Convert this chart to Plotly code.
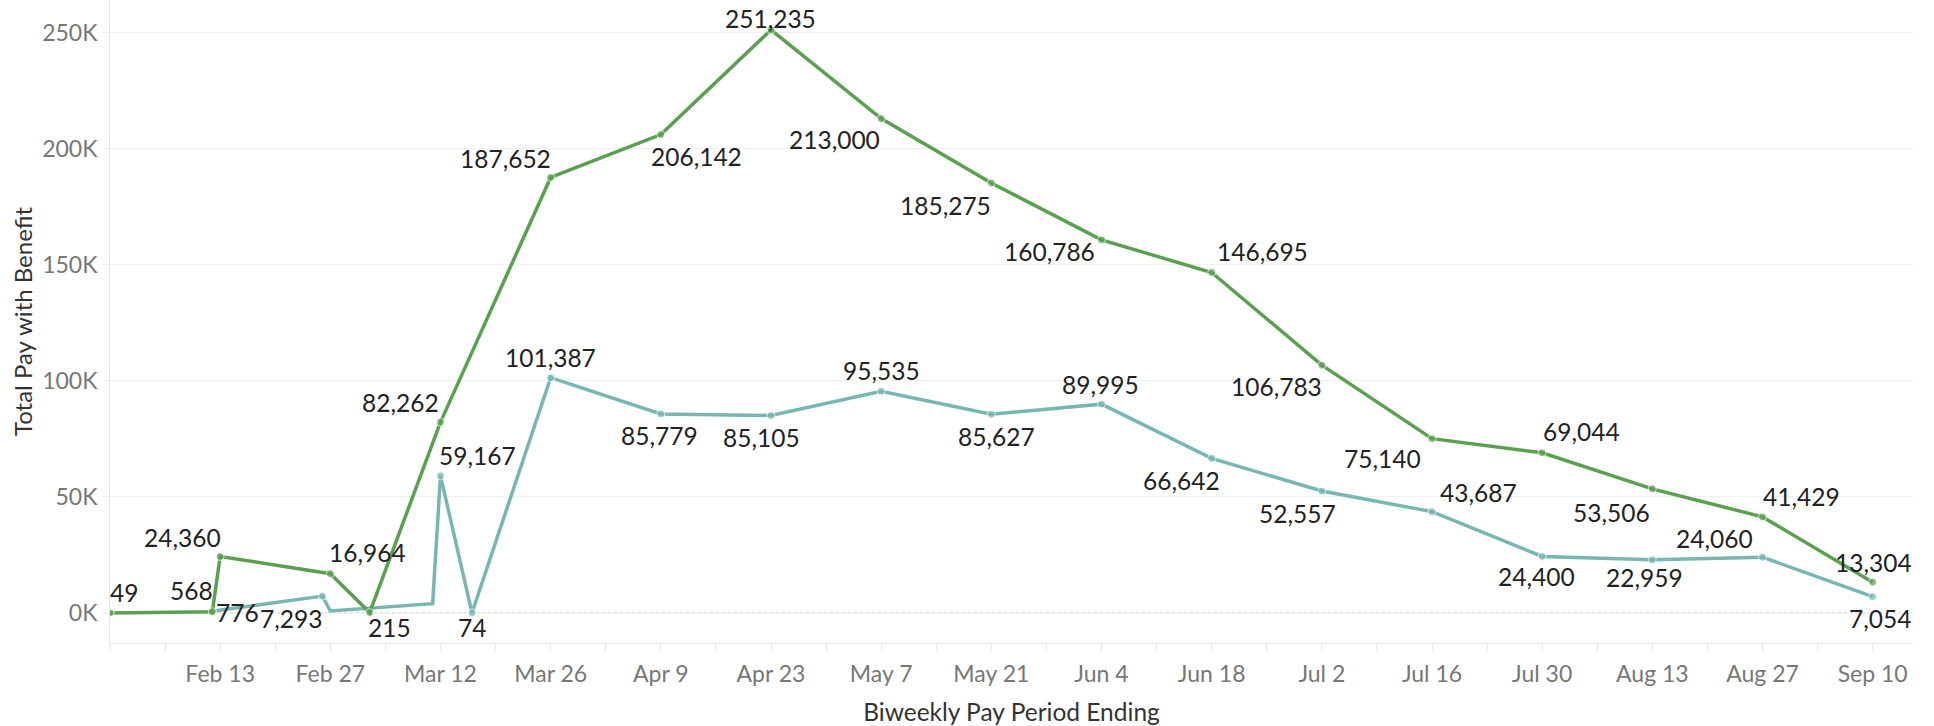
import plotly.graph_objects as go

# ---- data ----
green_dates = ["2020-01-30", "2020-02-12", "2020-02-13", "2020-02-27", "2020-03-03",
               "2020-03-12", "2020-03-26", "2020-04-09", "2020-04-23", "2020-05-07",
               "2020-05-21", "2020-06-04", "2020-06-18", "2020-07-02", "2020-07-16",
               "2020-07-30", "2020-08-13", "2020-08-27", "2020-09-10"]
green_values = [49, 568, 24360, 16964, 215, 82262, 187652, 206142, 251235, 213000,
                185275, 160786, 146695, 106783, 75140, 69044, 53506, 41429, 13304]

teal_dates = ["2020-02-12", "2020-02-26", "2020-02-27", "2020-03-11", "2020-03-12",
              "2020-03-16", "2020-03-26", "2020-04-09", "2020-04-23", "2020-05-07",
              "2020-05-21", "2020-06-04", "2020-06-18", "2020-07-02", "2020-07-16",
              "2020-07-30", "2020-08-13", "2020-08-27", "2020-09-10"]
teal_values = [776, 7293, 900, 4050, 59167, 74, 101387, 85779, 85105, 95535,
               85627, 89995, 66642, 52557, 43687, 24400, 22959, 24060, 7054]

x_tick_dates = ["2020-02-13", "2020-02-27", "2020-03-12", "2020-03-26", "2020-04-09",
                "2020-04-23", "2020-05-07", "2020-05-21", "2020-06-04", "2020-06-18",
                "2020-07-02", "2020-07-16", "2020-07-30", "2020-08-13", "2020-08-27",
                "2020-09-10"]
x_tick_labels = ["Feb 13", "Feb 27", "Mar 12", "Mar 26", "Apr 9", "Apr 23", "May 7",
                 "May 21", "Jun 4", "Jun 18", "Jul 2", "Jul 16", "Jul 30", "Aug 13",
                 "Aug 27", "Sep 10"]

y_tick_values = [0, 50000, 100000, 150000, 200000, 250000]
y_tick_labels = ["0K", "50K", "100K", "150K", "200K", "250K"]

# label placement: pixel offset of label centre from its point (None = no label)
green_label_offsets = [(14, -20), (-21, -21), (-38, -19), (37, -21), (20, 15),
                       (-40, -20), (-45, -19), (36, 22), (-1, -11), (-47, 21),
                       (-46, 23), (-52, 12), (51, -21), (-45, 21), (-50, 20),
                       (39, -21), (-41, 24), (39, -20), (1, -20)]
teal_label_offsets = [(25, 1), (-31, 22), None, None, (37, -20),
                      (0, 15), (0, -20), (-1, 22), (-10, 22), (0, -21),
                      (5, 22), (-1, -20), (-30, 22), (-24, 22), (46, -19),
                      (-6, 20), (-8, 18), (-48, -19), (7, 22)]

GREEN = "#59a14f"
TEAL = "#76b7b2"
FONT = "Lato"
LABEL_FONT = dict(family=FONT, size=24.5, color="#222222")


def series(dates, values, offsets, color):
    sizes = [8 if o else 0 for o in offsets]
    return go.Scatter(
        x=dates, y=values, mode="lines+markers",
        line=dict(color=color, width=3.5),
        marker=dict(color=color, size=sizes),
        showlegend=False, hoverinfo="x+y",
    )


def labels(dates, values, offsets):
    out = []
    for d, v, o in zip(dates, values, offsets):
        if not o:
            continue
        out.append(dict(x=d, y=v, xref="x", yref="y", text=f"{v:,}",
                        showarrow=False, xanchor="center", yanchor="middle",
                        xshift=o[0], yshift=-o[1], font=LABEL_FONT))
    return out


fig = go.Figure()
fig.add_trace(series(teal_dates, teal_values, teal_label_offsets, TEAL))
fig.add_trace(series(green_dates, green_values, green_label_offsets, GREEN))

fig.add_shape(type="line", xref="paper", yref="y", x0=0, x1=1, y0=0, y1=0,
              line=dict(color="#bdbdbd", width=1, dash="dot"), layer="below")

annotations = labels(teal_dates, teal_values, teal_label_offsets) + \
    labels(green_dates, green_values, green_label_offsets)

fig.update_layout(
    width=1934, height=726,
    margin=dict(l=110, r=21, t=0, b=83),
    paper_bgcolor="white", plot_bgcolor="white",
    font=dict(family=FONT),
    annotations=annotations,
    xaxis=dict(
        type="date", automargin=False,
        range=["2020-01-30 00:00", "2020-09-15 03:00"],
        tickvals=x_tick_dates, ticktext=x_tick_labels,
        ticks="outside", ticklen=7, tickcolor="#e6e6e6", tickwidth=1,
        ticklabelstandoff=3,
        minor=dict(dtick=7 * 86400000, tick0="2020-01-30", ticks="outside",
                   ticklen=7, tickcolor="#e6e6e6", showgrid=False),
        showline=True, linecolor="#e6e6e6", linewidth=1,
        showgrid=False, zeroline=False,
        tickfont=dict(family=FONT, size=23, color="#777777"),
        title=dict(text="Biweekly Pay Period Ending",
                   font=dict(family=FONT, size=24.5, color="#333333"), standoff=18),
    ),
    yaxis=dict(
        range=[-12900, 264100], automargin=False,
        tickvals=y_tick_values, ticktext=y_tick_labels,
        ticks="outside", ticklen=7, tickcolor="#eeeeee",
        showline=True, linecolor="#e6e6e6", linewidth=1,
        showgrid=True, gridcolor="#f0f0f0", gridwidth=1, zeroline=False,
        tickfont=dict(family=FONT, size=23, color="#777777"),
        title=dict(text="Total Pay with Benefit",
                   font=dict(family=FONT, size=24, color="#333333"), standoff=2),
    ),
)

fig.write_html("out.html", config={"displayModeBar": False},
               post_script="document.body.style.margin='0px';")
